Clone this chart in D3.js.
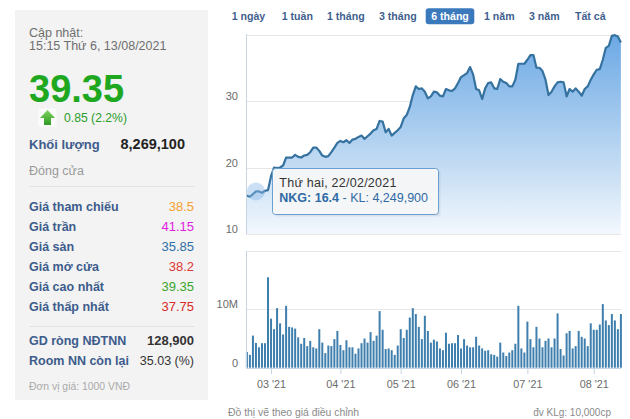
<!DOCTYPE html>
<html><head><meta charset="utf-8">
<script src="https://cdn.jsdelivr.net/npm/d3@7"></script>
<style>
body{margin:0;background:#fff}
svg{display:block}
text{font-family:Arial,'Liberation Sans',sans-serif}
</style>
</head><body><svg id="c" width="630" height="419"></svg>
<script>
// ---------------- DATA ----------------
const dates = [
"2021-02-17","2021-02-18","2021-02-19","2021-02-22","2021-02-23","2021-02-24","2021-02-25","2021-02-26",
"2021-03-01","2021-03-02","2021-03-03","2021-03-04","2021-03-05","2021-03-08","2021-03-09","2021-03-10","2021-03-11","2021-03-12",
"2021-03-15","2021-03-16","2021-03-17","2021-03-18","2021-03-19","2021-03-22","2021-03-23","2021-03-24","2021-03-25","2021-03-26",
"2021-03-29","2021-03-30","2021-03-31",
"2021-04-01","2021-04-02","2021-04-05","2021-04-06","2021-04-07","2021-04-08","2021-04-09","2021-04-12","2021-04-13","2021-04-14",
"2021-04-15","2021-04-16","2021-04-19","2021-04-20","2021-04-22","2021-04-23","2021-04-26","2021-04-27","2021-04-28","2021-04-29",
"2021-05-04","2021-05-05","2021-05-06","2021-05-07","2021-05-10","2021-05-11","2021-05-12","2021-05-13","2021-05-14","2021-05-17",
"2021-05-18","2021-05-19","2021-05-20","2021-05-21","2021-05-24","2021-05-25","2021-05-26","2021-05-27","2021-05-28","2021-05-31",
"2021-06-01","2021-06-02","2021-06-03","2021-06-04","2021-06-07","2021-06-08","2021-06-09","2021-06-10","2021-06-11","2021-06-14",
"2021-06-15","2021-06-16","2021-06-17","2021-06-18","2021-06-21","2021-06-22","2021-06-23","2021-06-24","2021-06-25","2021-06-28",
"2021-06-29","2021-06-30",
"2021-07-01","2021-07-02","2021-07-05","2021-07-06","2021-07-07","2021-07-08","2021-07-09","2021-07-12","2021-07-13","2021-07-14",
"2021-07-15","2021-07-16","2021-07-19","2021-07-20","2021-07-21","2021-07-22","2021-07-23","2021-07-26","2021-07-27","2021-07-28",
"2021-07-29","2021-07-30",
"2021-08-02","2021-08-03","2021-08-04","2021-08-05","2021-08-06","2021-08-09","2021-08-10","2021-08-11","2021-08-12","2021-08-13"
];
const prices = [
15.8,15.6,16.0,16.4,16.4,16.2,16.5,16.6,18.7,20.0,
19.9,20.0,20.3,21.5,21.5,21.5,21.9,21.6,21.5,21.8,
21.9,22.3,23.0,23.0,22.5,21.8,21.6,21.7,22.3,23.0,
23.7,24.0,23.8,24.1,23.7,24.2,24.3,24.6,24.8,24.3,
24.7,25.1,25.6,25.8,27.0,26.9,25.3,25.8,24.8,25.2,
25.6,26.1,27.4,27.9,29.1,30.9,32.2,31.8,31.9,31.4,
30.4,30.7,31.4,31.3,30.8,30.7,31.8,31.6,31.5,31.9,
32.7,33.6,33.9,34.2,35.1,34.0,31.8,31.6,30.3,31.9,
32.7,32.8,31.9,31.8,33.3,32.9,32.7,32.2,32.2,33.2,
35.6,35.6,35.6,36.2,36.9,36.9,35.0,35.0,34.5,33.2,
30.9,31.4,32.2,32.8,32.9,32.8,30.7,31.8,31.4,31.9,
31.4,30.8,31.8,32.2,33.2,34.0,34.7,34.8,36.2,38.0,
38.3,39.8,39.9,39.7,38.8
];
const volumesM = [
2.7,2.2,5.5,4.2499,3.5,4.2,4.2,15.5,8.4,6.6,
10.2,7.6,5.7,10.6,7.0,6.9,6.7,5.2,4.1,5.1,
3.7,4.6,3.5,3.3,6.6,4.3,2.5,3.8,3.7,4.9,
6.3,3.9,3.0,4.7,3.5,3.5,2.4,3.3,4.2,5.0,
4.3,6.1,4.6,5.5,9.7,6.5,3.2,3.3,3.0,2.2,
3.8,6.6,5.1,6.5,8.6,10.2,9.2,7.0,4.9,8.9,
6.3,4.3,4.8,4.5,3.3,3.0,6.0,4.1,4.2,4.2,
5.6,3.3,4.9,3.8,3.5,3.5,5.3,3.8,3.3,2.9,
3.0,2.3,2.2,1.9,4.3,2.6,2.0,2.6,3.0,4.1,
10.6,3.3,2.6,7.9,4.9,3.5,7.0,5.0,3.5,4.6,
5.0,3.5,5.0,9.3,3.2,2.1,5.9,6.3,3.3,3.7,
6.3,5.3,5.0,3.7,7.6,6.5,6.5,7.4,10.9,8.1,
7.3,9.2,8.1,6.6,9.2
];
const tickDates = ["2021-03-01","2021-04-01","2021-05-04","2021-06-01","2021-07-01","2021-08-02"];
const tickLabels = ["03 '21","04 '21","05 '21","06 '21","07 '21","08 '21"];
const priceTicks = [10,20,30,40];
const priceTickLabels = ["10","20","30",""];
const volumeTicks = [0,10,20];
const volumeTickLabels = ["0","10M",""];
const rangeButtons = ["1 ngày","1 tuần","1 tháng","3 tháng","6 tháng","1 năm","3 năm","Tất cả"];
const selectedButton = "6 tháng";
const infoLabels = ["Giá tham chiếu","Giá trần","Giá sàn","Giá mở cửa","Giá cao nhất","Giá thấp nhất"];
const infoValues = ["38.5","41.15","35.85","38.2","39.35","37.75"];
const ticker = "NKG";
const hoverDate = "2021-02-22";
const weekdaysVi = ["Chủ nhật","Thứ hai","Thứ ba","Thứ tư","Thứ năm","Thứ sáu","Thứ bảy"];

// ---------------- DRAW ----------------
const svg = d3.select("#c");
svg.append("rect").attr("width",630).attr("height",419).attr("fill","#fff");

// Left info panel
const L = svg.append("g");
L.append("rect").attr("x",15).attr("y",10).attr("width",193).attr("height",390).attr("fill","#f3f3f3");
L.append("text").attr("x",29).attr("y",36.5).attr("font-size",12.5).attr("fill","#6e6e6e").text("Cập nhật:");
L.append("text").attr("x",29).attr("y",49.5).attr("font-size",12.5).attr("fill","#6e6e6e").text("15:15 Thứ 6, 13/08/2021");
L.append("text").attr("x",29).attr("y",101.5).attr("font-size",38).attr("font-weight","bold").attr("fill","#1fa71f").text("39.35");
// arrow
const defs = svg.append("defs");
const ag = defs.append("linearGradient").attr("id","ag").attr("x1",0).attr("y1",0).attr("x2",0).attr("y2",1);
ag.append("stop").attr("offset","0").attr("stop-color","#7fd35f");
ag.append("stop").attr("offset","1").attr("stop-color","#2f9a25");
L.append("rect").attr("x",38.5).attr("y",108.5).attr("width",18).attr("height",18).attr("fill","#fbfbfb");
L.append("path").attr("d","M47.5,110 L55,118 L51,118 L51,125 L44,125 L44,118 L40,118 Z").attr("fill","url(#ag)");
L.append("text").attr("x",64).attr("y",122.3).attr("font-size",12.2).attr("fill","#2a9d2a").text("0.85 (2.2%)");
L.append("text").attr("x",29).attr("y",148.5).attr("font-size",13).attr("font-weight","bold").attr("fill","#3d5c8c").text("Khối lượng");
L.append("text").attr("x",185).attr("y",149).attr("text-anchor","end").attr("font-size",14.5).attr("font-weight","bold").attr("fill","#222").text("8,269,100");
L.append("text").attr("x",29).attr("y",174.5).attr("font-size",12.5).attr("fill","#9a9a9a").text("Đóng cửa");
L.append("line").attr("x1",29).attr("x2",195).attr("y1",186.5).attr("y2",186.5).attr("stroke","#e3e3e3");
const infoColors = ["#f5a030","#e020e0","#2f6fa8","#e03535","#3aa52a","#d82828"];
infoLabels.forEach((lab,k)=>{
  const y = 211 + k*19.9;
  L.append("text").attr("x",29).attr("y",y).attr("font-size",12.5).attr("font-weight","bold").attr("fill","#3d5c8c").text(lab);
  L.append("text").attr("x",194).attr("y",y).attr("text-anchor","end").attr("font-size",13).attr("fill",infoColors[k]).text(infoValues[k]);
});
L.append("line").attr("x1",29).attr("x2",195).attr("y1",326.5).attr("y2",326.5).attr("stroke","#e3e3e3");
L.append("text").attr("x",29).attr("y",345).attr("font-size",12.5).attr("font-weight","bold").attr("fill","#3d5c8c").text("GD ròng NĐTNN");
L.append("text").attr("x",194).attr("y",345).attr("text-anchor","end").attr("font-size",13).attr("font-weight","bold").attr("fill","#333").text("128,900");
L.append("text").attr("x",29).attr("y",365).attr("font-size",12.5).attr("font-weight","bold").attr("fill","#3d5c8c").text("Room NN còn lại");
L.append("text").attr("x",194).attr("y",365).attr("text-anchor","end").attr("font-size",12.5).attr("fill","#333").text("35.03 (%)");
L.append("text").attr("x",29).attr("y",389.5).attr("font-size",10.4).attr("fill","#aaa").text("Đơn vị giá: 1000 VNĐ");

// Range buttons
const btnX = [231.7,281.7,327,379,428,484,529,575];
rangeButtons.forEach((b,k)=>{
  const sel = b===selectedButton;
  if(sel){
    svg.append("rect").attr("x",425.7).attr("y",8.3).attr("width",48.6).attr("height",16).attr("rx",3).attr("fill","#3b79bd");
  }
  svg.append("text").attr("x", sel?450:btnX[k]).attr("y",19.8).attr("text-anchor", sel?"middle":"start")
    .attr("font-size",10.6).attr("font-weight","bold").attr("fill", sel?"#fff":"#3f5f8f").text(b);
});

// Scales
const x = d3.scalePoint().domain(dates).range([246.9, 620.9]);
const yP = d3.scaleLinear().domain([10,40]).range([234,34.5]);
const yV = d3.scaleLinear().domain([0,20]).range([367.7,251]);
const plotL = 246, plotR = 621;

// Price gridlines & labels
const gP = svg.append("g");
priceTicks.forEach((t,k)=>{
  gP.append("line").attr("x1",plotL).attr("x2",plotR).attr("y1",Math.round(yP(t))+0.5).attr("y2",Math.round(yP(t))+0.5).attr("stroke","#e6e6e6");
  if(priceTickLabels[k]) gP.append("text").attr("x",238).attr("y",yP(t)-1).attr("text-anchor","end").attr("font-size",11).attr("fill","#6b6b6b").text(priceTickLabels[k]);
});
// area gradient
const pg = defs.append("linearGradient").attr("id","pg").attr("gradientUnits","userSpaceOnUse").attr("x1",0).attr("y1",34).attr("x2",0).attr("y2",234);
pg.append("stop").attr("offset","0").attr("stop-color","#6ba8e5");
pg.append("stop").attr("offset","0.65").attr("stop-color","#c2dbf3");
pg.append("stop").attr("offset","1").attr("stop-color","#f3f8fd");
const area = d3.area().x((d,i)=>x(dates[i])).y0(yP(10)).y1(d=>yP(d));
svg.append("path").datum(prices).attr("d",area).attr("fill","url(#pg)");
const line = d3.line().x((d,i)=>x(dates[i])).y(d=>yP(d));
svg.append("path").datum(prices).attr("d",line).attr("fill","none").attr("stroke","#35729f").attr("stroke-width",2.2).attr("stroke-linejoin","round");
svg.append("line").attr("x1",plotL+0.5).attr("x2",plotL+0.5).attr("y1",34).attr("y2",234).attr("stroke","#c6d4e3");

// Volume gridlines & labels
const gV = svg.append("g");
volumeTicks.forEach((t,k)=>{
  gV.append("line").attr("x1",plotL).attr("x2",plotR).attr("y1",Math.round(yV(t))+0.5).attr("y2",Math.round(yV(t))+0.5).attr("stroke",t===0?"#c6d4e3":"#e6e6e6");
  if(volumeTickLabels[k]) gV.append("text").attr("x",238).attr("y",yV(t)-1).attr("text-anchor","end").attr("font-size",11).attr("fill","#6b6b6b").text(volumeTickLabels[k]);
});
svg.append("g").selectAll("rect").data(volumesM).join("rect")
  .attr("x",(d,i)=>x(dates[i])-1).attr("width",2)
  .attr("y",d=>yV(d)).attr("height",d=>yV(0)-yV(d))
  .attr("fill","#3f7fae");
svg.append("line").attr("x1",plotL+0.5).attr("x2",plotL+0.5).attr("y1",251).attr("y2",368).attr("stroke","#c6d4e3");

// X axis
const xAxis = d3.axisBottom(x).tickValues(tickDates).tickFormat((d,i)=>tickLabels[i]).tickSize(6).tickPadding(6);
const gx = svg.append("g").attr("transform","translate(0,368)").call(xAxis);
gx.select(".domain").remove();
gx.selectAll(".tick line").attr("stroke","#c6d4e3");
gx.selectAll(".tick text").attr("font-size",10.8).attr("fill","#6b6b6b").attr("font-family","Arial,'Liberation Sans',sans-serif");

// Footer
svg.append("text").attr("x",228).attr("y",416).attr("font-size",10.4).attr("fill","#8a8a8a").text("Đồ thị vẽ theo giá điều chỉnh");
svg.append("text").attr("x",611).attr("y",416).attr("text-anchor","end").attr("font-size",10).attr("fill","#8a8a8a").text("đv KLg: 10,000cp");

// Hover tooltip
const hi = dates.indexOf(hoverDate);
const hd = d3.timeParse("%Y-%m-%d")(hoverDate);
svg.append("circle").attr("cx",x(hoverDate)).attr("cy",yP(prices[hi])).attr("r",9).attr("fill","#8cbbe8").attr("fill-opacity",0.45);
const tt = svg.append("g");
tt.append("rect").attr("x",273.5).attr("y",169.5).attr("width",166).attr("height",46).attr("rx",3)
  .attr("fill","#000").attr("fill-opacity",0.06).attr("transform","translate(1,1)");
tt.append("rect").attr("x",272.5).attr("y",168.5).attr("width",166).attr("height",46).attr("rx",3)
  .attr("fill","#f8f8f8").attr("fill-opacity",0.9).attr("stroke","#6a9fd4");
tt.append("text").attr("x",279.3).attr("y",186.8).attr("font-family","'DejaVu Sans',Verdana,sans-serif").attr("font-size",12.5).attr("fill","#333")
  .attr("letter-spacing",0.25)
  .text(`${weekdaysVi[hd.getDay()]}, ${d3.timeFormat("%d/%m/%Y")(hd)}`);
const t2 = tt.append("text").attr("x",279.3).attr("y",202.2).attr("font-family","'DejaVu Sans',Verdana,sans-serif").attr("font-size",12.5).attr("fill","#2f6aa5");
t2.append("tspan").attr("font-weight","bold").text(`${ticker}: ${prices[hi]}`);
t2.append("tspan").text(` - KL: ${d3.format(",")(Math.round(volumesM[hi]*1e6))}`);
</script>
</body></html>
